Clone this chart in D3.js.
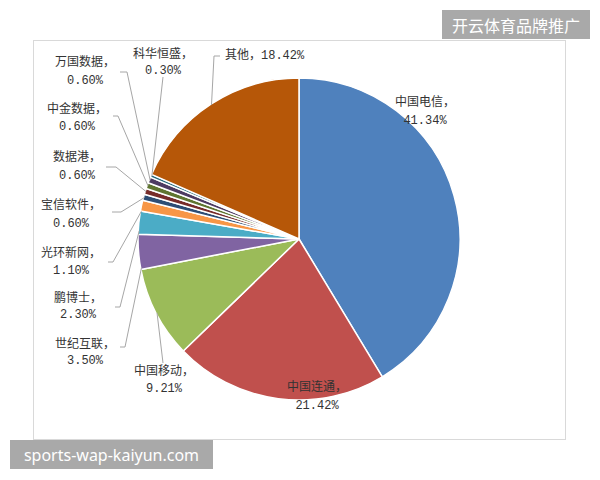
<!DOCTYPE html>
<html>
<head>
<meta charset="utf-8">
<script src="https://cdn.jsdelivr.net/npm/d3@7"></script>
<style>
  html, body { margin: 0; padding: 0; background: #fff; }
  svg { display: block; }
</style>
</head>
<body>
<svg id="chart" width="600" height="480"></svg>
<script>
// ---- data ----
const categories = ["中国电信", "中国联通", "中国移动", "世纪互联", "鹏博士", "光环新网",
                    "宝信软件", "数据港", "中金数据", "万国数据", "科华恒盛", "其他"];
const labelNames = ["中国电信", "中国连通", "中国移动", "世纪互联", "鹏博士", "光环新网",
                    "宝信软件", "数据港", "中金数据", "万国数据", "科华恒盛", "其他"];
const shares = [41.34, 21.42, 9.21, 3.50, 2.30, 1.10, 0.60, 0.60, 0.60, 0.60, 0.30, 18.42];
const shareLabels = ["41.34%", "21.42%", "9.21%", "3.50%", "2.30%", "1.10%",
                     "0.60%", "0.60%", "0.60%", "0.60%", "0.30%", "18.42%"];
const colors = ["#4F81BD", "#C0504D", "#9BBB59", "#8064A2", "#4BACC6", "#F79646",
                "#2C4D75", "#772C2A", "#5F7530", "#4D3B62", "#276A7C", "#B65708"];

// ---- layout (label placement, leader lines) ----
const cx = 299, cy = 239, R = 161;
// x: label centre, y1/y2: line centres, oneLine: single-line label (start-anchored)
// lead: leader points on label side, at: fraction within slice for the rim anchor
const labelLayout = [
  { x: 425, y1: 103, y2: 121 },
  { x: 317, y1: 388, y2: 406 },
  { x: 164, y1: 372, y2: 389, lead: [[163, 363]], at: 0.5 },
  { x: 85,  y1: 345, y2: 361, lead: [[120, 347], [125, 347]], at: 0.05 },
  { x: 78,  y1: 299, y2: 315, lead: [[115, 307], [120, 307]], at: 0.15 },
  { x: 71,  y1: 254, y2: 271, lead: [[108, 262], [113, 262]], at: 0.0 },
  { x: 71,  y1: 206, y2: 224, lead: [[112, 212], [121, 212]], at: 0.5 },
  { x: 77,  y1: 158, y2: 176, lead: [[106, 167], [116, 167]], at: 0.5 },
  { x: 77,  y1: 110, y2: 127, lead: [[113, 116], [118, 116]], at: 0.5 },
  { x: 85,  y1: 63,  y2: 81,  lead: [[120, 72], [127, 72]], at: 0.5 },
  { x: 163, y1: 55,  y2: 71,  lead: [[163, 77]], at: 0.5 },
  { x: 225, y1: 56, oneLine: true, lead: [[220, 56], [214, 56]], at: 0.5 }
];

const svg = d3.select("#chart");

// chart frame
svg.append("rect")
  .attr("x", 33.5).attr("y", 40.5).attr("width", 532).attr("height", 399)
  .attr("fill", "#fff").attr("stroke", "#d9d9d9").attr("stroke-width", 1);

const pie = d3.pie().value(d => d).sort(null).startAngle(0).endAngle(2 * Math.PI);
const arcs = pie(shares);
const arc = d3.arc().innerRadius(0).outerRadius(R);

const g = svg.append("g").attr("transform", `translate(${cx},${cy})`);
g.selectAll("path.slice")
  .data(arcs)
  .join("path")
  .attr("class", "slice")
  .attr("d", arc)
  .attr("fill", (d, i) => colors[i])
  .attr("stroke", "#fff")
  .attr("stroke-width", 1.5)
  .attr("stroke-linejoin", "round");

// leader lines
const line = d3.line();
arcs.forEach((a, i) => {
  const L = labelLayout[i];
  if (!L.lead) return;
  const ang = a.startAngle + (a.endAngle - a.startAngle) * L.at;
  const ex = cx + (R - 1) * Math.sin(ang);
  const ey = cy - (R - 1) * Math.cos(ang);
  svg.append("path")
    .attr("d", line([...L.lead, [ex, ey]]))
    .attr("fill", "none")
    .attr("stroke", "#a6a6a6")
    .attr("stroke-width", 1);
});

// labels
const font = "'Liberation Mono', 'Noto Sans CJK SC', monospace";
arcs.forEach((a, i) => {
  const L = labelLayout[i];
  if (L.oneLine) {
    svg.append("text")
      .attr("x", L.x).attr("y", L.y1)
      .attr("dominant-baseline", "central")
      .attr("font-family", font).attr("font-size", 12).attr("fill", "#333")
      .text(labelNames[i] + "，" + shareLabels[i]);
  } else {
    svg.append("text")
      .attr("x", L.x).attr("y", L.y1)
      .attr("text-anchor", "middle").attr("dominant-baseline", "central")
      .attr("font-family", font).attr("font-size", 12).attr("fill", "#333")
      .text(labelNames[i] + "，");
    svg.append("text")
      .attr("x", L.x).attr("y", L.y2)
      .attr("text-anchor", "middle").attr("dominant-baseline", "central")
      .attr("font-family", font).attr("font-size", 12).attr("fill", "#333")
      .text(shareLabels[i]);
  }
});

// watermark boxes
svg.append("rect").attr("x", 442).attr("y", 10).attr("width", 148).attr("height", 29).attr("fill", "#a9a9a9");
svg.append("text").attr("x", 516).attr("y", 25)
  .attr("text-anchor", "middle").attr("dominant-baseline", "central")
  .attr("font-family", "'Noto Sans CJK SC', sans-serif").attr("font-size", 16).attr("fill", "#fff")
  .text("开云体育品牌推广");
svg.append("rect").attr("x", 10).attr("y", 440).attr("width", 203).attr("height", 29).attr("fill", "#a9a9a9");
svg.append("text").attr("x", 111.5).attr("y", 455)
  .attr("text-anchor", "middle").attr("dominant-baseline", "central")
  .attr("font-family", "'Noto Sans', 'Open Sans', sans-serif").attr("font-size", 16).attr("fill", "#fff")
  .text("sports-wap-kaiyun.com");
</script>
</body>
</html>
